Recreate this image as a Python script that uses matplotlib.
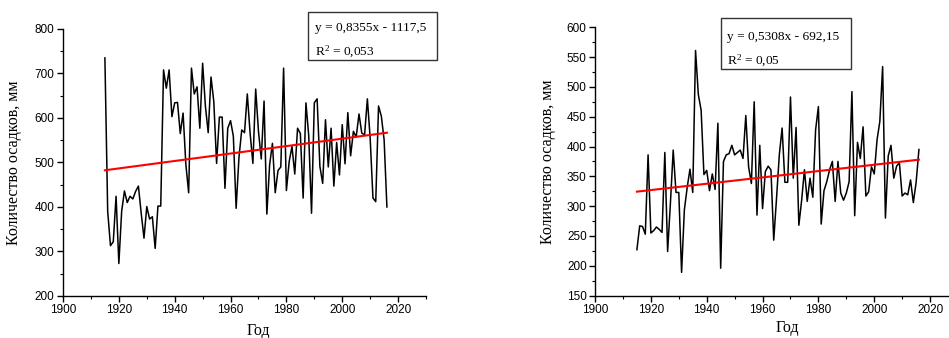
import numpy as np
import matplotlib.pyplot as plt
from matplotlib.patches import Rectangle
from matplotlib.ticker import MultipleLocator

years = list(range(1915, 2017))

# station 1, annual precipitation, mm
precip_1 = [735, 390, 313, 322, 424, 273, 390, 436, 410, 424,
            418, 435, 447, 386, 330, 401, 373, 378, 307, 402,
            402, 708, 667, 708, 603, 634, 635, 565, 611, 495,
            432, 712, 654, 670, 577, 723, 626, 567, 692, 637,
            498, 602, 602, 442, 577, 594, 559, 397, 510, 573,
            567, 654, 566, 498, 665, 570, 508, 638, 384, 495,
            543, 432, 482, 490, 712, 437, 502, 536, 474, 577,
            565, 420, 634, 560, 386, 634, 643, 491, 453, 596,
            490, 577, 447, 545, 472, 585, 497, 612, 515, 570,
            557, 609, 566, 562, 643, 555, 420, 412, 627, 604,
            551, 400]

# station 2, annual precipitation, mm
precip_2 = [227, 267, 266, 253, 386, 255, 259, 265, 261, 256,
            390, 224, 305, 394, 323, 323, 189, 294, 331, 362,
            323, 561, 487, 461, 353, 360, 326, 354, 328, 439,
            196, 375, 386, 388, 402, 386, 390, 394, 380, 452,
            366, 338, 475, 285, 402, 296, 358, 367, 361, 243,
            313, 386, 431, 340, 340, 483, 347, 432, 268, 310,
            361, 308, 347, 315, 428, 467, 270, 326, 341, 361,
            375, 308, 375, 322, 310, 322, 341, 492, 284, 407,
            380, 433, 317, 324, 366, 354, 411, 442, 534, 280,
            384, 402, 347, 367, 373, 317, 322, 319, 344, 306,
            340, 395]

# trend lines as printed on the chart
trend_1 = (0.8355, -1117.5)
trend_2 = (0.5308, -692.15)
labels_1 = ["y = 0,8355x - 1117,5", "R$^2$ = 0,053"]
labels_2 = ["y = 0,5308x - 692,15", "R$^2$ = 0,05"]

SERIF = "Liberation Serif"
SANS = "Liberation Sans"
W, H = 949, 338

plt.rcParams["mathtext.fontset"] = "custom"
plt.rcParams["mathtext.rm"] = SERIF
plt.rcParams["mathtext.it"] = SERIF


def px(x, y):
    # pixel position (from top-left) -> figure fraction
    return x / W, 1 - y / H


def draw_panel(ax, values, trend, box_lines, ylim, ystep, xlab_pos, ylab_pos, box):
    x = np.array(years)
    ax.plot(x, values, color="black", linewidth=1.1)
    ends = np.array([x[0], x[-1]])
    ax.plot(ends, trend[0] * ends + trend[1], color="red", linewidth=1.5)

    ax.set_xlim(1900, 2030)
    ax.set_ylim(*ylim)
    ax.set_xticks(range(1900, 2021, 20))
    ax.xaxis.set_minor_locator(MultipleLocator(10))
    ax.yaxis.set_major_locator(MultipleLocator(ystep))
    ax.yaxis.set_minor_locator(MultipleLocator(ystep / 2))
    for s in ["top", "right"]:
        ax.spines[s].set_visible(False)
    for s in ["left", "bottom"]:
        ax.spines[s].set_linewidth(1.0)
    ax.tick_params(which="major", direction="out", length=4, width=1.0,
                   pad=2, labelsize=8.5)
    ax.tick_params(which="minor", direction="out", length=2.5, width=0.8)
    for lab in ax.get_xticklabels() + ax.get_yticklabels():
        lab.set_fontfamily(SANS)

    ax.set_ylabel("Количество осадков, мм", family=SERIF, fontsize=11.5)
    ax.set_xlabel("Год", family=SERIF, fontsize=11.5)
    ax.xaxis.set_label_coords(*xlab_pos)
    ax.yaxis.set_label_coords(*ylab_pos)

    # regression box
    (x0, y0, x1, y1), tx, (b1, b2) = box
    fx0, fy1 = px(x0, y1)
    fx1, fy0 = px(x1, y0)
    fig = ax.figure
    fig.patches.append(Rectangle((fx0, fy1), fx1 - fx0, fy0 - fy1,
                                 transform=fig.transFigure, facecolor="white",
                                 edgecolor="#333333", linewidth=1.0))
    for line, b in zip(box_lines, (b1, b2)):
        fig.text(*px(tx, b), line, family=SERIF, fontsize=9.6,
                 ha="left", va="baseline")


fig = plt.figure(figsize=(9.49, 3.38), dpi=100)
ax1 = fig.add_axes([0.0664, 0.1243, 0.3825, 0.790])
ax2 = fig.add_axes([0.627, 0.1254, 0.3825, 0.794])

draw_panel(ax1, precip_1, trend_1, labels_1, (200, 800), 100,
           (0.537, -0.10), (-0.113, 0.5),
           ((308, 12, 437, 60), 315, (31, 55)))
draw_panel(ax2, precip_2, trend_2, labels_2, (150, 600), 50,
           (0.529, -0.09), (-0.107, 0.5),
           ((721, 18, 851, 69), 727, (40, 64)))

fig.savefig("out.png", dpi=100)
